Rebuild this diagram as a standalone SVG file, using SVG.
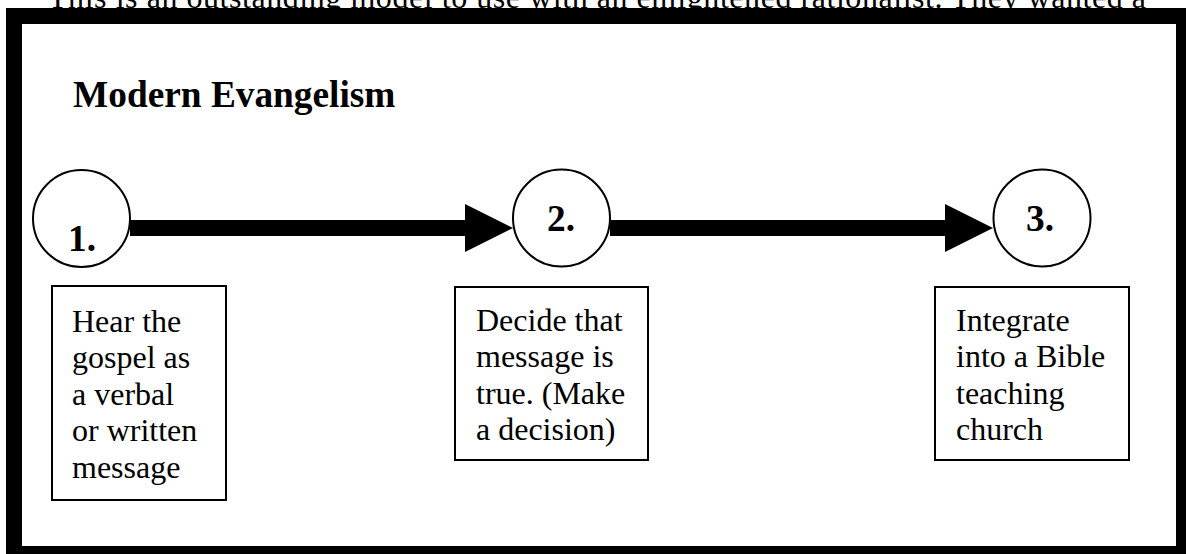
<svg xmlns="http://www.w3.org/2000/svg" width="1186" height="554" viewBox="0 0 1186 554">
<style>
.body{font-family:"Liberation Serif","Times New Roman",serif;font-size:32px;fill:#000}
.bold{font-family:"Liberation Serif","Times New Roman",serif;font-size:37.33px;font-weight:bold;fill:#000}
.circ{fill:#fff;stroke:#000;stroke-width:2}
.box{fill:#fff;stroke:#000;stroke-width:2}
.shaft{stroke:#000;stroke-width:16;fill:none}
</style>
<defs>
<marker id="head" viewBox="0 0 48 48" markerWidth="48" markerHeight="48" markerUnits="userSpaceOnUse" refX="1" refY="24" orient="auto">
<path d="M0,0 L48,24 L0,48 Z" fill="#000"/>
</marker>
</defs>
<rect width="1186" height="554" fill="#fff"/>
<text class="body" x="48" y="8" textLength="1098" lengthAdjust="spacing">This is an outstanding model to use with an enlightened rationalist. They wanted a</text>
<rect id="frame" x="14" y="16" width="1170" height="538" fill="none" stroke="#000" stroke-width="16"/>
<text id="title" class="bold" x="73" y="107">Modern Evangelism</text>
<g id="connectors">
<line class="shaft" x1="130" y1="228" x2="466" y2="228" marker-end="url(#head)"/>
<line class="shaft" x1="610" y1="228" x2="946" y2="228" marker-end="url(#head)"/>
</g>
<g id="node1">
<circle class="circ" cx="81.5" cy="218.5" r="48.5"/>
<text class="bold" x="68" y="251">1.</text>
</g>
<g id="node2">
<circle class="circ" cx="561.5" cy="218" r="48.5"/>
<text class="bold" x="547" y="231">2.</text>
</g>
<g id="node3">
<circle class="circ" cx="1042" cy="218" r="48.5"/>
<text class="bold" x="1026" y="231">3.</text>
</g>
<g id="box1">
<rect class="box" x="52" y="286" width="174" height="214"/>
<text class="body" x="72" y="331.5">Hear the</text>
<text class="body" x="72" y="368">gospel as</text>
<text class="body" x="72" y="404.5">a verbal</text>
<text class="body" x="72" y="441">or written</text>
<text class="body" x="72" y="477.5">message</text>
</g>
<g id="box2">
<rect class="box" x="455" y="287" width="193" height="173"/>
<text class="body" x="476" y="330.5">Decide that</text>
<text class="body" x="476" y="367">message is</text>
<text class="body" x="476" y="403.5">true. (Make</text>
<text class="body" x="476" y="440">a decision)</text>
</g>
<g id="box3">
<rect class="box" x="935" y="287" width="194" height="173"/>
<text class="body" x="956" y="330.5">Integrate</text>
<text class="body" x="956" y="367">into a Bible</text>
<text class="body" x="956" y="403.5">teaching</text>
<text class="body" x="956" y="440">church</text>
</g>
</svg>
